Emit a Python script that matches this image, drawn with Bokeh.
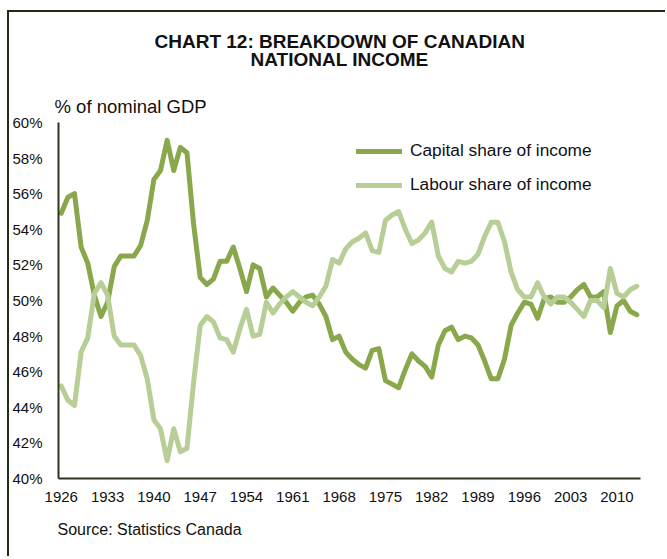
from bokeh.plotting import figure
from bokeh.models import (Range1d, FixedTicker, PrintfTickFormatter, Title, Legend, LegendItem,
                          ColumnDataSource)
from bokeh.embed import file_html
from bokeh.resources import INLINE

# ---------------- data ----------------
years = list(range(1926, 2014))
capital_share = [
    54.9, 55.8, 56.0, 53.0, 52.1, 50.3, 49.1, 49.9, 51.9, 52.5,
    52.5, 52.5, 53.1, 54.5, 56.8, 57.3, 59.0, 57.3, 58.6, 58.3,
    54.3, 51.3, 50.9, 51.2, 52.2, 52.2, 53.0, 51.8, 50.5, 52.0,
    51.8, 50.2, 50.7, 50.3, 49.9, 49.4, 49.9, 50.2, 50.3, 49.8,
    49.1, 47.8, 48.0, 47.1, 46.7, 46.4, 46.2, 47.2, 47.3, 45.5,
    45.3, 45.1, 46.1, 47.0, 46.6, 46.3, 45.7, 47.5, 48.3, 48.5,
    47.8, 48.0, 47.9, 47.5, 46.6, 45.6, 45.6, 46.7, 48.6, 49.3,
    49.9, 49.8, 49.0, 50.1, 50.2, 49.9, 49.9, 50.2, 50.6, 50.9,
    50.2, 50.2, 50.5, 48.2, 49.7, 50.0, 49.4, 49.2,
]
labour_share = [
    45.2, 44.4, 44.1, 47.1, 47.9, 50.4, 51.0, 50.3, 48.0, 47.5,
    47.5, 47.5, 46.9, 45.6, 43.3, 42.8, 41.0, 42.8, 41.5, 41.7,
    45.4, 48.6, 49.1, 48.8, 47.9, 47.8, 47.1, 48.4, 49.5, 48.0,
    48.1, 49.9, 49.3, 49.8, 50.2, 50.5, 50.2, 49.9, 49.7, 50.2,
    50.8, 52.3, 52.1, 52.9, 53.3, 53.5, 53.8, 52.8, 52.7, 54.5,
    54.8, 55.0, 54.0, 53.2, 53.4, 53.8, 54.4, 52.5, 51.8, 51.6,
    52.2, 52.1, 52.2, 52.6, 53.6, 54.4, 54.4, 53.3, 51.6, 50.6,
    50.2, 50.2, 51.0, 50.2, 49.8, 50.2, 50.2, 49.9, 49.5, 49.1,
    50.0, 50.0, 49.6, 51.8, 50.4, 50.2, 50.6, 50.8,
]
x_tick_years = [1926, 1933, 1940, 1947, 1954, 1961, 1968, 1975, 1982, 1989, 1996, 2003, 2010]
y_ticks = [40, 42, 44, 46, 48, 50, 52, 54, 56, 58, 60]
series_names = ["Capital share of income", "Labour share of income"]
title_lines = ["CHART 12: BREAKDOWN OF CANADIAN", "NATIONAL INCOME"]
y_unit_label = "% of nominal GDP"
source_text = "Source: Statistics Canada"

# ---------------- styles ----------------
FONT = "Liberation Sans"
DARK = "#89a74b"
LIGHT = "#b7ce96"
AXIS = "#2b361c"
FRAME = "#222c12"
TXT = "#111111"

src = ColumnDataSource(dict(year=years, cap=capital_share, lab=labour_share))

p = figure(width=658, height=546, output_backend="svg", toolbar_location=None, title=None,
           x_range=Range1d(1925.58, 2013.56), y_range=Range1d(40, 60),
           min_border_left=49, min_border_right=27, min_border_top=110, min_border_bottom=80)
p.styles = {"margin-left": "7px", "margin-top": "10px",
            "border-top": f"2px solid {FRAME}", "border-left": f"2px solid {FRAME}"}
p.outline_line_color = None
p.xgrid.visible = False
p.ygrid.visible = False
p.background_fill_color = "white"
p.border_fill_color = "white"

r_cap = p.line("year", "cap", source=src, line_color=DARK, line_width=5,
               line_join="round", line_cap="round")
r_lab = p.line("year", "lab", source=src, line_color=LIGHT, line_width=5,
               line_join="round", line_cap="round")

for ax in (p.xaxis[0], p.yaxis[0]):
    ax.axis_line_color = AXIS
    ax.axis_line_width = 2
    ax.major_tick_in = 0
    ax.major_tick_out = 0
    ax.minor_tick_in = 0
    ax.minor_tick_out = 0
    ax.major_label_text_font = FONT
    ax.major_label_text_font_size = "15px"
    ax.major_label_text_color = TXT

p.xaxis.ticker = FixedTicker(ticks=x_tick_years)
p.xaxis.major_label_standoff = 13
p.yaxis.ticker = FixedTicker(ticks=y_ticks)
p.yaxis.formatter = PrintfTickFormatter(format="%d%%")
p.yaxis.major_label_standoff = 16

legend = Legend(items=[LegendItem(label=series_names[0], renderers=[r_cap]),
                       LegendItem(label=series_names[1], renderers=[r_lab])],
                location=(298, 283), orientation="vertical",
                glyph_width=46, glyph_height=20, label_height=20, spacing=13,
                label_standoff=8, padding=0, margin=0,
                border_line_color=None, background_fill_alpha=0,
                label_text_font=FONT, label_text_font_size="17.3px", label_text_color=TXT)
p.add_layout(legend)

# texts above the frame (first added sits nearest the frame)
p.add_layout(Title(text=y_unit_label, align="left", offset=-4, standoff=11,
                   text_font=FONT, text_font_size="18.5px", text_font_style="normal",
                   text_color=TXT), "above")
p.add_layout(Title(text=title_lines[1], align="left", offset=192, standoff=37,
                   text_font=FONT, text_font_size="19px", text_font_style="bold",
                   text_color=TXT), "above")
p.add_layout(Title(text=title_lines[0], align="left", offset=96, standoff=-47,
                   text_font=FONT, text_font_size="19px", text_font_style="bold",
                   text_color=TXT), "above")
# source below the axis
p.add_layout(Title(text=source_text, align="left", offset=-1, standoff=29,
                   text_font=FONT, text_font_size="16px", text_font_style="normal",
                   text_color=TXT), "below")

open("out.html", "w").write(file_html(p, INLINE))
